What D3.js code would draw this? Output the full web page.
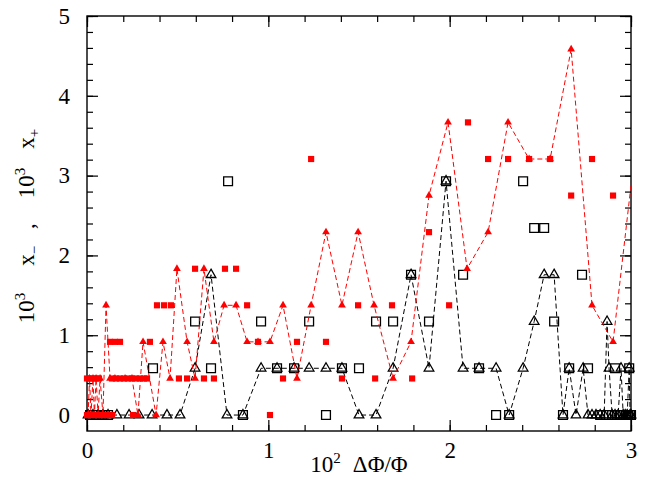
<!DOCTYPE html>
<html>
<head>
<meta charset="utf-8">
<script src="https://cdn.jsdelivr.net/npm/d3@7"></script>
<style>
  body { margin: 0; background: #fff; }
</style>
</head>
<body>
<svg id="chart" width="659" height="481"></svg>
<script>
// x+ : filled red squares (no line)
const redSqX = [0.0, 0.005, 0.022, 0.039, 0.055, 0.072, 0.088, 0.105, 0.121, 0.138, 0.254, 1.009,
  0.0, 0.017, 0.033, 0.050, 0.066, 0.138, 0.160, 0.182, 0.204, 0.226, 0.248, 0.270, 0.292, 0.314, 0.331,
  0.507, 0.552, 0.645, 0.700, 1.081, 1.406, 1.589, 1.793,
  0.127, 0.154, 0.182, 0.347, 0.943, 1.158, 1.318,
  0.386, 0.425, 0.463, 0.883, 1.495, 1.682, 1.997,
  0.596, 0.761, 0.822,
  1.886,
  2.670, 2.901,
  1.236, 2.212, 2.322, 2.438, 2.554, 2.785,
  2.101];
const redSqY = [0, 0, 0, 0, 0, 0, 0, 0, 0, 0, 0, 0,
  0.458, 0.458, 0.458, 0.458, 0.458, 0.458, 0.458, 0.458, 0.458, 0.458, 0.458, 0.458, 0.458, 0.458, 0.458,
  0.458, 0.458, 0.458, 0.458, 0.458, 0.458, 0.458, 0.458,
  0.917, 0.917, 0.917, 0.917, 0.917, 0.917, 0.917,
  1.375, 1.375, 1.375, 1.375, 1.375, 1.375, 1.375,
  1.833, 1.833, 1.833,
  2.292,
  2.75, 2.75,
  3.208, 3.208, 3.208, 3.208, 3.208, 3.208,
  3.667];

// x+ : filled red triangles joined by dashed red line
const redTriX = [0.006, 0.014, 0.022, 0.033, 0.041, 0.050, 0.061, 0.072, 0.088, 0.105, 0.127, 0.154,
  0.210, 0.248, 0.281, 0.309, 0.381, 0.419, 0.458, 0.496, 0.552, 0.596, 0.645, 0.700, 0.756, 0.822,
  0.883, 0.943, 1.009, 1.081, 1.158, 1.236, 1.318, 1.406, 1.495, 1.583, 1.688, 1.787, 1.886, 1.991,
  2.096, 2.212, 2.322, 2.438, 2.554, 2.670, 2.785, 2.901, 3.04];
const redTriY = [0, 0.458, 0, 0.458, 0, 0.458, 0, 0.458, 0, 1.375, 0.458, 0.458,
  0.458, 0.458, 0, 0.917, 0, 0.917, 0.458, 1.833, 0.917, 0.458, 1.833, 0.917, 1.375, 1.375,
  0.917, 0.917, 0.917, 1.375, 0.458, 1.375, 2.292, 1.375, 2.292, 1.375, 0.458, 0.917, 2.75, 3.667,
  1.833, 2.292, 3.667, 3.208, 3.208, 4.583, 1.375, 0.917, 3.667];

// x- : open black squares (no line)
const blkSqX = [0.017, 0.050, 0.083, 0.116, 0.364, 0.596, 0.684, 0.778, 0.860, 0.960, 1.048, 1.142,
  1.225, 1.318, 1.406, 1.500, 1.594, 1.688, 1.787, 1.886, 1.980, 2.074, 2.162, 2.256, 2.328, 2.405,
  2.466, 2.521, 2.576, 2.625, 2.659, 2.730, 2.763, 2.830, 2.863, 2.896, 2.912, 2.923, 2.940, 2.957,
  2.973, 2.984, 2.990, 2.995, 3.0];
const blkSqY = [0, 0, 0, 0, 0.586, 1.172, 0.586, 2.93, 0, 1.172, 0.586, 0.586,
  1.172, 0, 0.586, 0.586, 1.172, 1.172, 1.758, 1.172, 2.93, 1.758, 0.586, 0, 0, 2.93,
  2.344, 2.344, 1.172, 0, 0.586, 1.758, 0.586, 0, 0, 0, 0.586, 0, 0, 0,
  0, 0, 0.586, 0, 0];

// x- : open black triangles joined by dashed black line
const blkTriX = [0.006, 0.033, 0.061, 0.088, 0.116, 0.165, 0.232, 0.287, 0.359, 0.441, 0.513, 0.596,
  0.684, 0.772, 0.860, 0.960, 1.048, 1.142, 1.225, 1.318, 1.406, 1.500, 1.594, 1.688, 1.787, 1.886,
  1.980, 2.074, 2.162, 2.256, 2.328, 2.405, 2.466, 2.521, 2.576, 2.625, 2.659, 2.697, 2.736, 2.763,
  2.785, 2.807, 2.830, 2.852, 2.868, 2.879, 2.896, 2.912, 2.929, 2.945, 2.957, 2.968, 2.979, 2.990,
  2.995, 3.0];
const blkTriY = [0, 0, 0, 0, 0, 0, 0, 0, 0, 0, 0, 0.586,
  1.758, 0, 0, 0.586, 0.586, 0.586, 0.586, 0.586, 0.586, 0, 0, 0.586, 1.758, 0.586,
  2.93, 0.586, 0.586, 0.586, 0, 0.586, 1.172, 1.758, 1.758, 0, 0.586, 0, 0.586, 0,
  0, 0, 0, 0, 1.172, 0.586, 0, 0, 0, 0.586, 0, 0, 0, 0.586,
  0, 0];

const xMajor = [0, 1, 2, 3];
const yMajor = [0, 1, 2, 3, 4, 5];

const width = 659, height = 481;
const margin = {top: 16, right: 28, bottom: 50, left: 87};
const serif = "'Liberation Serif', 'Times New Roman', Times, 'DejaVu Serif', serif";

const svg = d3.select("#chart");

const x = d3.scaleLinear().domain([0, 3]).range([margin.left, width - margin.right]);
const y = d3.scaleLinear().domain([-0.2, 5]).range([height - margin.bottom, margin.top]);

const xMinor = d3.range(0, 3.001, 0.2);
const yMinor = d3.range(0, 5.001, 0.2);

svg.append("clipPath").attr("id", "plot-clip")
  .append("rect")
  .attr("x", x(0)).attr("y", y(5))
  .attr("width", x(3) - x(0)).attr("height", y(-0.2) - y(5));

// ticks on all four sides, pointing inward
function addAxis(axis, transform, labels) {
  const g = svg.append("g").attr("transform", transform).call(axis);
  g.select(".domain").remove();
  g.attr("font-family", null).attr("font-size", null);
  g.selectAll(".tick line").attr("stroke", "#000").attr("stroke-width", 1.2);
  g.selectAll("text")
    .style("font-family", serif)
    .style("font-size", "23px")
    .attr("fill", "#000");
  if (!labels) g.selectAll("text").remove();
  return g;
}

const bottomY = y(-0.2), topY = y(5), leftX = x(0), rightX = x(3);

addAxis(d3.axisBottom(x).tickValues(xMinor).tickSize(-6).tickFormat(""), `translate(0,${bottomY})`, false);
addAxis(d3.axisBottom(x).tickValues(xMajor).tickSize(-11).tickPadding(11).tickFormat(d3.format("d")), `translate(0,${bottomY})`, true);
addAxis(d3.axisTop(x).tickValues(xMinor).tickSize(-6).tickFormat(""), `translate(0,${topY})`, false);
addAxis(d3.axisTop(x).tickValues(xMajor).tickSize(-11).tickFormat(""), `translate(0,${topY})`, false);

addAxis(d3.axisLeft(y).tickValues(yMinor).tickSize(-6).tickFormat(""), `translate(${leftX},0)`, false);
addAxis(d3.axisLeft(y).tickValues(yMajor).tickSize(-11).tickPadding(17).tickFormat(d3.format("d")), `translate(${leftX},0)`, true);
addAxis(d3.axisRight(y).tickValues(yMinor).tickSize(-6).tickFormat(""), `translate(${rightX},0)`, false);
addAxis(d3.axisRight(y).tickValues(yMajor).tickSize(-11).tickFormat(""), `translate(${rightX},0)`, false);

// frame
svg.append("rect")
  .attr("x", leftX).attr("y", topY)
  .attr("width", rightX - leftX).attr("height", bottomY - topY)
  .attr("fill", "none").attr("stroke", "#000").attr("stroke-width", 1.4);

const line = d3.line().x(d => x(d[0])).y(d => y(d[1]));
const zip = (xs, ys) => xs.map((v, i) => [v, ys[i]]);

const blkSq = zip(blkSqX, blkSqY);
const blkTri = zip(blkTriX, blkTriY);
const redSq = zip(redSqX, redSqY);
const redTri = zip(redTriX, redTriY);

const marks = svg.append("g");

// black series first
marks.append("path")
  .datum(blkTri)
  .attr("d", line)
  .attr("fill", "none").attr("stroke", "#000")
  .attr("stroke-width", 1).attr("stroke-dasharray", "5,3")
  .attr("clip-path", "url(#plot-clip)");

marks.append("g").selectAll("path")
  .data(blkSq)
  .join("path")
  .attr("transform", d => `translate(${x(d[0])},${y(d[1])})`)
  .attr("d", d3.symbol(d3.symbolSquare, 78))
  .attr("fill", "none").attr("stroke", "#000").attr("stroke-width", 1.3);

marks.append("g").selectAll("path")
  .data(blkTri)
  .join("path")
  .attr("transform", d => `translate(${x(d[0])},${y(d[1])})`)
  .attr("d", d3.symbol(d3.symbolTriangle, 40))
  .attr("fill", "none").attr("stroke", "#000").attr("stroke-width", 1.3);

// red series on top
marks.append("path")
  .datum(redTri)
  .attr("d", line)
  .attr("fill", "none").attr("stroke", "#ff0000")
  .attr("stroke-width", 1).attr("stroke-dasharray", "5,3")
  .attr("clip-path", "url(#plot-clip)");

marks.append("g").selectAll("path")
  .data(redSq)
  .join("path")
  .attr("transform", d => `translate(${x(d[0])},${y(d[1])})`)
  .attr("d", d3.symbol(d3.symbolSquare, 38))
  .attr("fill", "#ff0000");

marks.append("g").selectAll("path")
  .data(redTri.filter(d => d[0] <= 3))
  .join("path")
  .attr("transform", d => `translate(${x(d[0])},${y(d[1])})`)
  .attr("d", d3.symbol(d3.symbolTriangle, 26))
  .attr("fill", "#ff0000");

// axis titles
const xTitle = svg.append("text")
  .attr("x", (leftX + rightX) / 2).attr("y", 472)
  .attr("text-anchor", "middle")
  .style("font-family", serif)
  .style("font-size", "23px");
xTitle.append("tspan").text("10");
xTitle.append("tspan").attr("dy", -9).style("font-size", "15px").text("2");
xTitle.append("tspan").attr("dy", 9).attr("dx", 12).text("ΔΦ/Φ");

const yTitle = svg.append("text")
  .attr("transform", `translate(34,226) rotate(-90)`)
  .attr("text-anchor", "middle")
  .style("font-family", serif)
  .style("font-size", "23px");
yTitle.append("tspan").text("10");
yTitle.append("tspan").attr("dy", -9).style("font-size", "15px").text("3");
yTitle.append("tspan").attr("dy", 9).attr("dx", 27).text("x");
yTitle.append("tspan").attr("dy", 5).style("font-size", "15px").text("−");
yTitle.append("tspan").attr("dy", -5).attr("dx", 17).text(",");
yTitle.append("tspan").attr("dx", 25).text("10");
yTitle.append("tspan").attr("dy", -9).style("font-size", "15px").text("3");
yTitle.append("tspan").attr("dy", 9).attr("dx", 19).text("x");
yTitle.append("tspan").attr("dy", 5).style("font-size", "15px").text("+");
</script>
</body>
</html>
